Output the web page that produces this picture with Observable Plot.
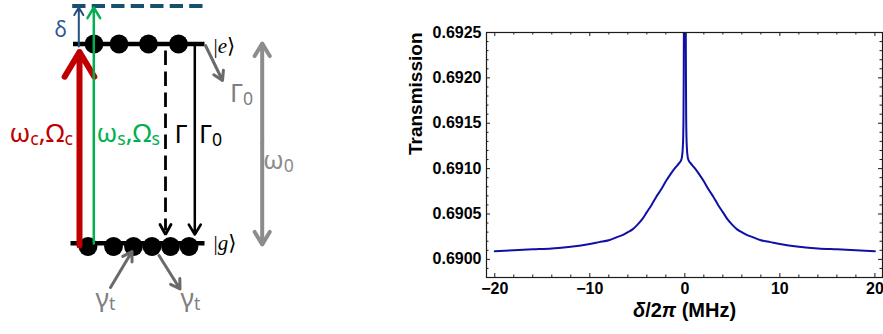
<!DOCTYPE html>
<html><head><meta charset="utf-8">
<script src="https://cdn.jsdelivr.net/npm/d3@7"></script>
<script src="https://cdn.jsdelivr.net/npm/@observablehq/plot@0.6"></script>
<style>
body{margin:0;background:#fff;}
#wrap{display:flex;width:883px;height:334px;overflow:hidden;}
#wrap svg{display:block;flex:none;}
</style></head><body><div id="wrap"></div>
<script>
// ---------- Right panel: transmission vs detuning ----------
const detuning = [-20,-18,-16,-14,-12,-10,-9,-8,-7,-6.5,-6,-5.5,-5,-4.5,-4,-3.5,-3,-2.5,-2,-1.5,-1,-0.6,-0.4,-0.3,-0.22,-0.17,-0.14,-0.12,-0.1,-0.07,0,
                  0.07,0.1,0.12,0.14,0.17,0.22,0.3,0.4,0.6,1,1.5,2,2.5,3,3.5,4,4.5,5,5.5,6,6.5,7,8,9,10,12,14,16,18,20];
const transmission = [0.69009,0.69010,0.69011,0.69012,0.69014,0.69017,0.69019,0.69021,0.69025,0.69027,0.69030,0.69033,0.69038,0.69044,0.69052,0.69060,0.69069,0.69077,0.69086,0.69094,0.69101,0.69106,0.69109,0.69113,0.69122,0.69136,0.69158,0.69195,0.69250,0.69350,0.69600,
                      0.69350,0.69250,0.69195,0.69158,0.69136,0.69122,0.69113,0.69109,0.69106,0.69101,0.69094,0.69086,0.69077,0.69069,0.69060,0.69052,0.69044,0.69038,0.69033,0.69030,0.69027,0.69025,0.69021,0.69019,0.69017,0.69014,0.69012,0.69011,0.69010,0.69009];
const xMajorTicks = [-20,-10,0,10,20];
const xMinorTicks = [-18,-16,-14,-12,-8,-6,-4,-2,2,4,6,8,12,14,16,18];
const yMajorTicks = [0.6900,0.6905,0.6910,0.6915,0.6920,0.6925];
const yMinorTicks = [0.6899,0.6901,0.6902,0.6903,0.6904,0.6906,0.6907,0.6908,0.6909,0.6911,0.6912,0.6913,0.6914,0.6916,0.6917,0.6918,0.6919,0.6921,0.6922,0.6923,0.6924];
const xLabel = "*δ*/2*π* (MHz)";
const yLabel = "Transmission";

// ---------- Left panel: level scheme (diagram units = pixels of the panel) ----------
const levels = [
  {name: "e", x1: 72.5, x2: 204, y: 43.5},
  {name: "g", x1: 70, x2: 204, y: 242.7}
];
const detunedLevel = [{x1: 71.7, x2: 202, y: 5.5}];
const atomsExcited = [{x: 93.5, y: 43.5}, {x: 118.5, y: 43.5}, {x: 148, y: 43.5}, {x: 178, y: 43.5}];
const atomsGround = [{x: 87.5, y: 246}, {x: 113, y: 246}, {x: 133, y: 246}, {x: 151.5, y: 246}, {x: 170, y: 246}, {x: 188.5, y: 246}];
const arrows = [
  {x1: 79, y1: 245, x2: 79, y2: 51.5, color: "#c00000", width: 6, head: 7.2},
  {x1: 93.3, y1: 243, x2: 93.3, y2: 7, color: "#00b050", width: 2.5, head: 7.4},
  {x1: 78.3, y1: 46, x2: 78.3, y2: 7, color: "#24507f", width: 2, head: 6.6},
  {x1: 194.3, y1: 46, x2: 194.3, y2: 234, color: "#000000", width: 2.5, head: 7},
  {x1: 205, y1: 45, x2: 222, y2: 80, color: "#6a6a6a", width: 3, head: 5.2},
  {x1: 261.7, y1: 143, x2: 261.7, y2: 43, color: "#8c8c8c", width: 4, head: 5.5},
  {x1: 261.7, y1: 143, x2: 261.7, y2: 244, color: "#8c8c8c", width: 4, head: 5.5},
  {x1: 110, y1: 287, x2: 131.5, y2: 251, color: "#6a6a6a", width: 3, head: 5.2},
  {x1: 158.5, y1: 255, x2: 179.5, y2: 288.5, color: "#6a6a6a", width: 3, head: 5.2}
];
const dashedDecay = [{x1: 165, y1: 50, x2: 165, y2: 230}];
const dashedHead = [{x: 159.5, y: 224}, {x: 165, y: 234}, {x: 170.5, y: 224}];
const labels = [
  {text: "δ", x: 54, y: 36, color: "#2f5597", size: 21, font: "'Noto Sans', sans-serif"},
  {text: "ω_c,Ω_c", x: 9, y: 141.5, color: "#c00000", size: 26, font: "'Noto Sans', sans-serif"},
  {text: "ω_s,Ω_s", x: 96, y: 141.5, color: "#00b050", size: 26, font: "'Noto Sans', sans-serif"},
  {text: "Γ", x: 174, y: 142.5, color: "#000000", size: 26, font: "'Noto Sans', sans-serif"},
  {text: "Γ_0", x: 198.5, y: 142.5, color: "#000000", size: 26, font: "'Noto Sans', sans-serif"},
  {text: "Γ_0", x: 229.5, y: 101.5, color: "#7f7f7f", size: 26, font: "'Noto Sans', sans-serif"},
  {text: "ω_0", x: 262.5, y: 168, color: "#8c8c8c", size: 26, font: "'Noto Sans', sans-serif"},
  {text: "γ_t", x: 95, y: 306, color: "#7f7f7f", size: 26, font: "'Noto Sans', sans-serif"},
  {text: "γ_t", x: 180, y: 306, color: "#7f7f7f", size: 26, font: "'Noto Sans', sans-serif"},
  {text: "|*e*⟩", x: 213, y: 52, color: "#000000", size: 21, font: "'Liberation Serif', 'DejaVu Serif', serif"},
  {text: "|*g*⟩", x: 213, y: 249, color: "#000000", size: 21, font: "'Liberation Serif', 'DejaVu Serif', serif"}
];

// ---------- helpers ----------
function richify(root) {
  const NS = "http://www.w3.org/2000/svg";
  root.querySelectorAll("text").forEach(t => {
    const s = t.textContent;
    if (!/[_*]/.test(s)) return;
    while (t.firstChild) t.removeChild(t.firstChild);
    const re = /_(.)|\*([^*]+)\*|([^_*]+)/g;
    const SUB = 0.68, DROP = 0.12;
    let m, up = 0;
    while ((m = re.exec(s))) {
      const ts = document.createElementNS(NS, "tspan");
      if (m[1] !== undefined) {
        ts.textContent = m[1];
        ts.style.fontSize = (SUB * 100) + "%";
        ts.setAttribute("dy", (DROP / SUB) + "em");
        up = DROP;
      } else {
        ts.textContent = m[2] !== undefined ? m[2] : m[3];
        if (m[2] !== undefined) ts.setAttribute("font-style", "italic");
        if (up) { ts.setAttribute("dy", (-up) + "em"); up = 0; }
      }
      t.appendChild(ts);
    }
  });
}

// ---------- left diagram ----------
const left = Plot.plot({
  width: 390, height: 334, margin: 0,
  x: {domain: [0, 390], range: [0, 390], axis: null},
  y: {domain: [0, 334], range: [0, 334], axis: null},
  style: {background: "transparent", overflow: "visible"},
  marks: [
    Plot.link(detunedLevel, {x1: "x1", x2: "x2", y1: "y", y2: "y", stroke: "#15506f", strokeWidth: 4, strokeDasharray: "13.3,6.2", strokeLinecap: "butt"}),
    Plot.link(levels, {x1: "x1", x2: "x2", y1: "y", y2: "y", stroke: "#000", strokeWidth: 4.5, strokeLinecap: "butt"}),
    Plot.dot(atomsExcited, {x: "x", y: "y", r: 9.4, fill: "#000"}),
    Plot.dot(atomsGround, {x: "x", y: "y", r: 9.4, fill: "#000"}),
    Plot.link(dashedDecay, {x1: "x1", x2: "x2", y1: "y1", y2: "y2", stroke: "#000", strokeWidth: 2.8, strokeDasharray: "14.5,6.5", strokeLinecap: "butt"}),
    Plot.line(dashedHead, {x: "x", y: "y", stroke: "#000", strokeWidth: 2.8, strokeLinejoin: "miter", curve: "linear"}),
    ...arrows.map(a => Plot.arrow([a], {x1: "x1", y1: "y1", x2: "x2", y2: "y2", stroke: a.color, strokeWidth: a.width, headLength: a.head, headAngle: 62})),
    ...labels.map(l => Plot.text([l], {x: "x", y: "y", text: "text", fill: l.color, fontSize: l.size, fontFamily: l.font, textAnchor: "start", lineAnchor: "bottom"}))
  ]
});
richify(left);

// ---------- right chart ----------
const FW = 396, FH = 245;
const points = detuning.map((d, i) => ({d, t: transmission[i]}));
const ink = "#1c1c1c";
const right = Plot.plot({
  width: 493, height: 334,
  marginLeft: 96, marginRight: 1, marginTop: 32, marginBottom: 57,
  style: {fontFamily: "'Liberation Sans', Arial, sans-serif", fontSize: "16px", fontWeight: "bold", color: "#000", background: "transparent"},
  x: {domain: [-20.87, 20.8]},
  y: {domain: [0.6898, 0.6925]},
  marks: [
    Plot.line(points, {x: "d", y: "t", stroke: "#1010a6", strokeWidth: 2, clip: true, curve: "monotone-x"}),
    Plot.frame({stroke: ink, strokeWidth: 1.2}),
    Plot.ruleX(xMajorTicks, {x: d => d, insetTop: FH - 4, stroke: ink}),
    Plot.ruleX(xMajorTicks, {x: d => d, insetBottom: FH - 4, stroke: ink}),
    Plot.ruleX(xMinorTicks, {x: d => d, insetTop: FH - 2.5, stroke: ink}),
    Plot.ruleX(xMinorTicks, {x: d => d, insetBottom: FH - 2.5, stroke: ink}),
    Plot.ruleY(yMajorTicks, {y: d => d, insetRight: FW - 4, stroke: ink}),
    Plot.ruleY(yMajorTicks, {y: d => d, insetLeft: FW - 4, stroke: ink}),
    Plot.ruleY(yMinorTicks, {y: d => d, insetRight: FW - 2.5, stroke: ink}),
    Plot.ruleY(yMinorTicks, {y: d => d, insetLeft: FW - 2.5, stroke: ink}),
    Plot.axisX({ticks: xMajorTicks, tickSize: 0, tickPadding: 5, label: null,
      tickFormat: d => d < 0 ? "\u2212" + Math.abs(d) : String(d)}),
    Plot.axisY({ticks: yMajorTicks, tickSize: 0, tickPadding: 5, label: null,
      tickFormat: d => d.toFixed(4)}),
    Plot.text([yLabel], {text: d => d, frameAnchor: "left", dx: -71, rotate: -90, fontSize: 19, fontWeight: "bold"}),
    Plot.text([xLabel], {text: d => d, frameAnchor: "bottom", dy: 39, fontSize: 20, fontWeight: "bold"})
  ]
});
richify(right);

const wrap = document.getElementById("wrap");
wrap.appendChild(left);
wrap.appendChild(right);
</script></body></html>
